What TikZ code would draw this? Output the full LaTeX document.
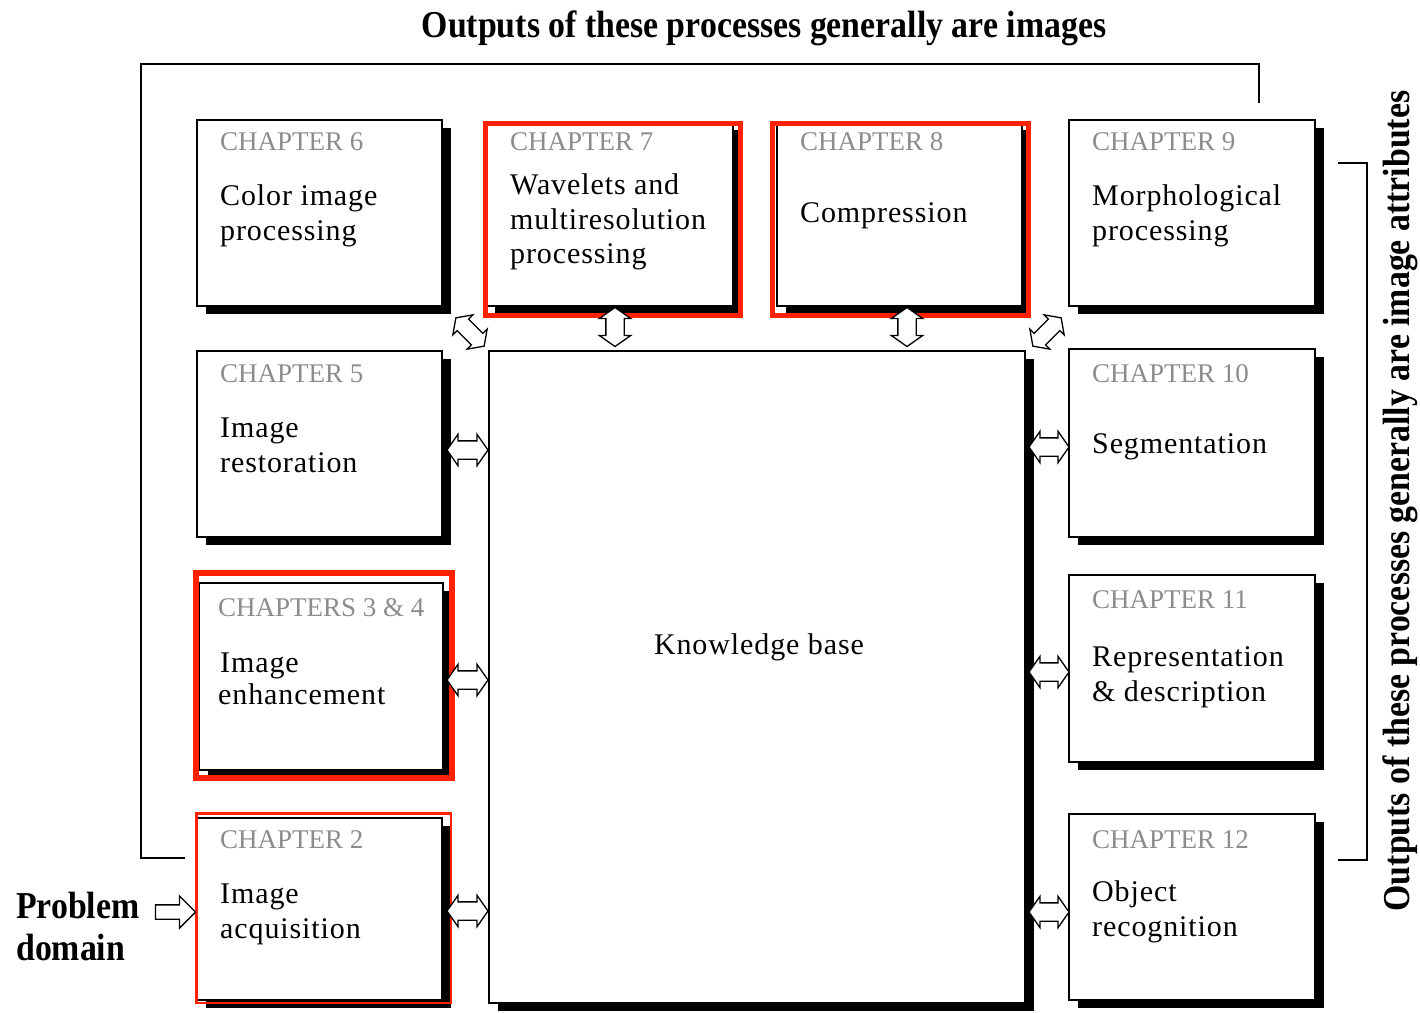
\documentclass[tikz,border=0pt]{standalone}
\usepackage{fontspec}
\setmainfont{Liberation Serif}
\usetikzlibrary{shapes.arrows,shadows,calc}
\definecolor{redframe}{HTML}{FF2200}
\definecolor{chgray}{HTML}{8C8C8C}
\begin{document}
\begin{tikzpicture}[x=1pt,y=-1pt,
  chbox/.style={draw, line width=1.6pt, fill=white, anchor=north west, inner sep=0pt, outer sep=0pt,
    drop shadow={shadow xshift=9pt, shadow yshift=-8pt, fill=black, opacity=1}},
  chlabel/.style={anchor=base west, inner sep=0pt, text=chgray, font=\fontsize{27}{27}\selectfont},
  chtext/.style={anchor=base west, inner sep=0pt, font=\fontsize{30}{35}\selectfont\addfontfeature{LetterSpace=3}},
  redbox/.style={draw=redframe, line width=5pt},
  bigbold/.style={inner sep=0pt, font=\fontsize{38}{40}\selectfont\bfseries},
  dblarrow/.style={double arrow, draw, line width=1.3pt, fill=white, minimum height=40pt,
    inner xsep=0pt, inner ysep=8.5pt, double arrow head extend=6.5pt, double arrow tip angle=110, outer sep=0pt},
  sglarrow/.style={single arrow, draw, line width=1.3pt, fill=white, minimum height=40pt,
    inner xsep=0pt, inner ysep=6.5pt, single arrow head extend=9pt, outer sep=0pt},
  bracket/.style={draw, line width=1.6pt}
]
\useasboundingbox (0,0) rectangle (1420,1012);

% title
\node[bigbold, anchor=base] (title) at (764,37) {\scalebox{0.89}[1]{Outputs of these processes generally are images}};

% brackets
\coordinate (lb1) at (185,858);
\coordinate (lb2) at (141,858);
\coordinate (lb3) at (141,64);
\coordinate (lb4) at (1259,64);
\coordinate (lb5) at (1259,103);
\draw[bracket] (lb1) -- (lb2) -- (lb3) -- (lb4) -- (lb5);
\coordinate (rb1) at (1338,163);
\coordinate (rb2) at (1367,163);
\coordinate (rb3) at (1367,860);
\coordinate (rb4) at (1338,860);
\draw[bracket] (rb1) -- (rb2) -- (rb3) -- (rb4);
\node[bigbold, anchor=base, rotate=90] (side) at (1409,501) {\scalebox{0.89}[1]{Outputs of these processes generally are image attributes}};

% boxes
\node[chbox, minimum width=245pt, minimum height=186pt] (c6) at (197,120) {};
\node[chbox, minimum width=247pt, minimum height=184pt] (c7) at (486,122) {};
\node[chbox, minimum width=245pt, minimum height=184pt] (c8) at (777,122) {};
\node[chbox, minimum width=246pt, minimum height=186pt] (c9) at (1069,120) {};
\node[chbox, minimum width=245pt, minimum height=186pt] (c5) at (197,351) {};
\node[chbox, minimum width=246pt, minimum height=188pt] (c10) at (1069,349) {};
\node[chbox, minimum width=244pt, minimum height=187pt] (c34) at (199,583) {};
\node[chbox, minimum width=246pt, minimum height=187pt] (c11) at (1069,575) {};
\node[chbox, minimum width=245pt, minimum height=182pt] (c2) at (197,818) {};
\node[chbox, minimum width=246pt, minimum height=186pt] (c12) at (1069,814) {};
\node[chbox, minimum width=536pt, minimum height=652pt] (kb) at (489,351) {};

% red frames
\draw[redbox] (485,123) rectangle (740,315);
\draw[redbox] (772,123) rectangle (1028,315);
\draw[redbox, line width=6pt] (196,573) rectangle (452,778);
\draw[redbox, line width=2.5pt] (196.5,813.5) rectangle (451,1003);

% texts
\node[chlabel] (c6l) at (220,150) {CHAPTER 6};
\node[chtext] (c6a) at (220,205) {Color image};
\node[chtext] (c6b) at (220,240) {processing};

\node[chlabel] (c7l) at (510,150) {CHAPTER 7};
\node[chtext] (c7a) at (510,194) {Wavelets and};
\node[chtext] (c7b) at (510,229) {multiresolution};
\node[chtext] (c7c) at (510,263) {processing};

\node[chlabel] (c8l) at (800,150) {CHAPTER 8};
\node[chtext] (c8a) at (800,222) {Compression};

\node[chlabel] (c9l) at (1092,150) {CHAPTER 9};
\node[chtext] (c9a) at (1092,205) {Morphological};
\node[chtext] (c9b) at (1092,240) {processing};

\node[chlabel] (c5l) at (220,382) {CHAPTER 5};
\node[chtext] (c5a) at (220,437) {Image};
\node[chtext] (c5b) at (220,472) {restoration};

\node[chlabel] (c10l) at (1092,382) {CHAPTER 10};
\node[chtext] (c10a) at (1092,453) {Segmentation};

\node[chlabel] (c34l) at (218,616) {CHAPTERS 3 \& 4};
\node[chtext] (c34a) at (220,672) {Image};
\node[chtext] (c34b) at (218,704) {enhancement};

\node[chlabel] (c11l) at (1092,608) {CHAPTER 11};
\node[chtext] (c11a) at (1092,666) {Representation};
\node[chtext] (c11b) at (1092,701) {\& description};

\node[chlabel] (c2l) at (220,848) {CHAPTER 2};
\node[chtext] (c2a) at (220,903) {Image};
\node[chtext] (c2b) at (220,938) {acquisition};

\node[chlabel] (c12l) at (1092,848) {CHAPTER 12};
\node[chtext] (c12a) at (1092,901) {Object};
\node[chtext] (c12b) at (1092,936) {recognition};

\node[chtext, anchor=base] (kbt) at (759,654) {Knowledge base};

% problem domain
\node[bigbold, anchor=base west] (pd1) at (16,918) {\scalebox{0.89}[1]{Problem}};
\node[bigbold, anchor=base west] (pd2) at (16,960) {\scalebox{0.89}[1]{domain}};
\node[sglarrow] (pda) at (172,912) {};

% double arrows
\node[dblarrow, minimum height=41pt] (a5) at (467.5,450) {};
\node[dblarrow, minimum height=41pt] (a34) at (467.5,680) {};
\node[dblarrow, minimum height=41pt] (a2) at (467.5,911) {};
\node[dblarrow] (a10) at (1049,447) {};
\node[dblarrow] (a11) at (1049,672) {};
\node[dblarrow] (a12) at (1049,912) {};
\node[dblarrow, rotate=90, minimum height=39pt] (a7) at (615,327) {};
\node[dblarrow, rotate=90, minimum height=39pt] (a8) at (907,327) {};
\node[dblarrow, rotate=-45, minimum height=40pt, inner ysep=7.5pt, double arrow head extend=6pt] (a6) at (470,332) {};
\node[dblarrow, rotate=45, minimum height=40pt, inner ysep=7.5pt, double arrow head extend=6pt] (a9) at (1047,332) {};
\end{tikzpicture}
\end{document}
